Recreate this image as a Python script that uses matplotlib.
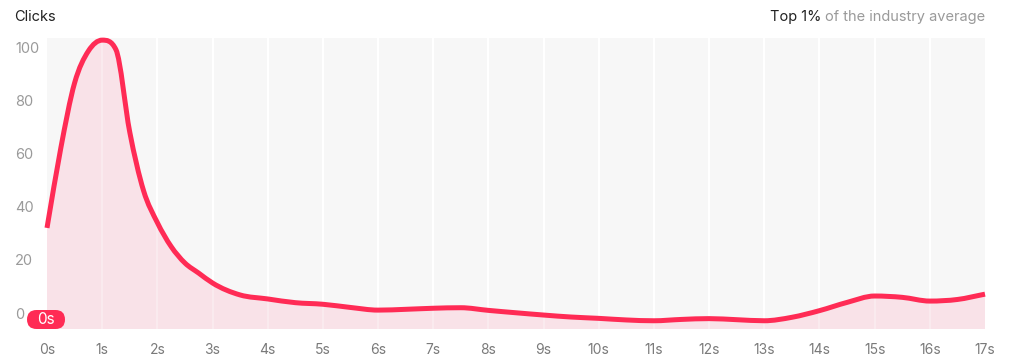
"""
Clicks over time - smooth area chart
"""

import numpy as np
import matplotlib
matplotlib.use('Agg')
import matplotlib.pyplot as plt
from matplotlib.path import Path
from matplotlib.patches import PathPatch, FancyBboxPatch
from matplotlib.transforms import IdentityTransform

plt.rcParams['font.family'] = ['Inter', 'DejaVu Sans']

# Dados
tempo = [0, 0.25, 0.5, 0.75, 1, 1.25, 1.5, 1.75, 2, 2.25, 2.5, 2.75, 3,
         3.5, 4, 4.5, 5, 5.5, 6, 6.5, 7, 7.5, 8, 8.5, 9, 9.5, 10, 10.5,
         11, 11.5, 12, 12.5, 13, 13.5, 14, 14.5, 15, 15.5, 16, 16.5, 17]
cliques = [32, 62, 86.5, 98.5, 102.6, 99.0, 68, 46, 34, 25, 18.8, 15, 11.3,
           6.8, 5.3, 3.9, 3.3, 2.1, 1.1, 1.4, 1.8, 2.0, 1.0, 0.1, -0.75, -1.5, -2.0, -2.6,
           -2.9, -2.4, -2.1, -2.5, -2.9, -1.6, 0.9, 4.0, 6.4, 5.9, 4.5, 5.1, 7.1]
yticks = [0, 20, 40, 60, 80, 100]
xticks = list(range(0, 18))
xlabels = [f'{s}s' for s in xticks]

COR_LINHA = '#ff2b55'
COR_AREA = '#f9e2e8'
Y_MIN, Y_MAX = -6.0, 103.4


def tangentes(x, y):
    """Tangentes centrais, limitadas para não ultrapassar os pontos."""
    d = np.diff(y) / np.diff(x)
    m = np.gradient(y, x)
    m[0], m[-1] = d[0], d[-1]
    for i in range(1, len(y) - 1):
        if d[i - 1] * d[i] <= 0:
            m[i] = 0.0
        else:
            lim = 3 * min(abs(d[i - 1]), abs(d[i]))
            m[i] = np.clip(m[i], -lim, lim)
    return m


def caminho_suave(x, y):
    """Curva de Bezier (Hermite cúbica) passando pelos pontos."""
    x = np.asarray(x, float)
    y = np.asarray(y, float)
    m = tangentes(x, y)
    verts = [(x[0], y[0])]
    codes = [Path.MOVETO]
    for i in range(len(x) - 1):
        dx = x[i + 1] - x[i]
        verts += [(x[i] + dx / 3, y[i] + m[i] * dx / 3),
                  (x[i + 1] - dx / 3, y[i + 1] - m[i + 1] * dx / 3),
                  (x[i + 1], y[i + 1])]
        codes += [Path.CURVE4] * 3
    return verts, codes


fig = plt.figure(figsize=(10.23, 3.62), dpi=100)
ax = fig.add_axes([47 / 1023, 33 / 362, 938 / 1023, 291 / 362])
ax.set_facecolor('#f7f7f7')

ax.set_xlim(0, 17)
ax.set_ylim(Y_MIN, Y_MAX)

for s in xticks[1:-1]:
    ax.axvline(s, color='white', linewidth=1.6, zorder=1)

verts, codes = caminho_suave(tempo, cliques)

# área preenchida
v_area = verts + [(tempo[-1], Y_MIN), (tempo[0], Y_MIN), verts[0]]
c_area = codes + [Path.LINETO, Path.LINETO, Path.CLOSEPOLY]
ax.add_patch(PathPatch(Path(v_area, c_area), facecolor=COR_AREA,
                       edgecolor='none', zorder=2))

for s in xticks[1:-1]:
    ax.axvline(s, color='white', linewidth=1.2, alpha=0.35, zorder=2.5)

# linha
ax.add_patch(PathPatch(Path(verts, codes), facecolor='none', edgecolor=COR_LINHA,
                       linewidth=3.6, capstyle='butt', joinstyle='round',
                       zorder=3, clip_on=False))

for sp in ax.spines.values():
    sp.set_visible(False)

ax.set_yticks(yticks)
ax.set_yticklabels([str(v) for v in yticks])
ax.set_xticks(xticks)
ax.set_xticklabels(xlabels)
ax.tick_params(axis='both', length=0)
# rótulos do eixo y alinhados à esquerda, em x = 15 px
ax.tick_params(axis='y', colors='#9a9a9a', labelsize=10.5, pad=(47 - 15) * 0.72)
for lbl in ax.get_yticklabels():
    lbl.set_horizontalalignment('left')
ax.tick_params(axis='x', colors='#7a7a7a', labelsize=10, pad=10)

# Título e legenda superior
fig.text(14 / 1023, 1 - 17 / 362, 'Clicks', fontsize=10.5, color='#222222',
         va='center', ha='left')
t2 = fig.text(985 / 1023, 1 - 17 / 362, 'of the industry average', fontsize=10.5,
              color='#9a9a9a', va='center', ha='right')
fig.canvas.draw()
bb = t2.get_window_extent()
fig.text((bb.x0 - 4) / 1023, 1 - 17 / 362, 'Top 1%', fontsize=10.5,
         color='#222222', va='center', ha='right')

# Marcador "0s" (pílula)
pilula = FancyBboxPatch((27, 362 - 329), 38, 19,
                        boxstyle='round,pad=0,rounding_size=9.5',
                        facecolor=COR_LINHA, edgecolor='none',
                        transform=IdentityTransform(), zorder=5)
fig.patches.append(pilula)
fig.text(46 / 1023, 1 - 319.5 / 362, '0s', fontsize=11, color='white',
         ha='center', va='center', zorder=6)

fig.savefig('out.png', dpi=100)
plt.close()
